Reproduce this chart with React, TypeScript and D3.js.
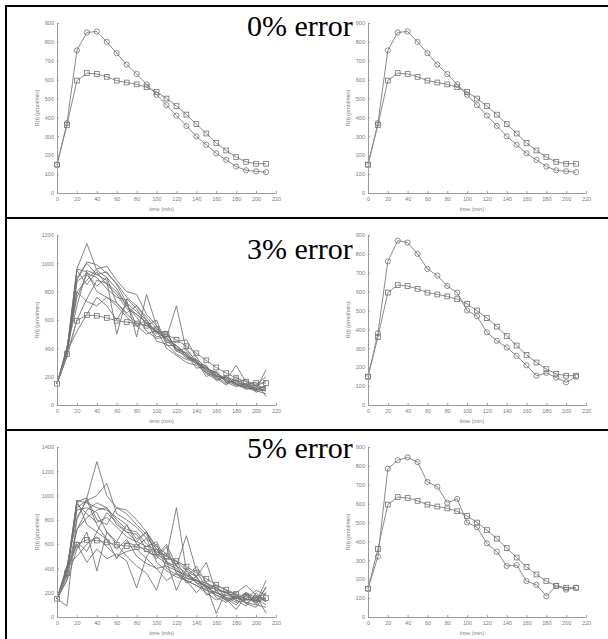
import React, { useRef, useEffect } from 'react';
import * as d3 from 'd3';

// sample times (min)
const times = [0, 10, 20, 30, 40, 50, 60, 70, 80, 90, 100, 110, 120, 130, 140, 150, 160, 170, 180, 190, 200, 210];
const xTicks = [0, 20, 40, 60, 80, 100, 120, 140, 160, 180, 200, 220];
const yTicks900 = [0, 100, 200, 300, 400, 500, 600, 700, 800, 900];
const yTicks1200 = [0, 200, 400, 600, 800, 1000, 1200];
const yTicks1400 = [0, 200, 400, 600, 800, 1000, 1200, 1400];

const titles = ['0% error', '3% error', '5% error'];

// true secretion rate (circles) and the plateau profile (squares)
const riseTrue = [150, 370, 755, 850, 855, 800, 740, 680, 630, 575, 520, 465, 410, 355, 300, 255, 210, 175, 140, 120, 115, 110];
const plateau = [150, 360, 595, 635, 630, 615, 595, 585, 575, 560, 535, 500, 460, 415, 365, 315, 265, 225, 190, 165, 155, 155];

// single estimates with noise
const rise3 = [150, 380, 760, 870, 860, 800, 720, 685, 630, 595, 500, 470, 385, 340, 305, 260, 210, 155, 170, 145, 120, 150];
const rise5 = [150, 320, 785, 830, 845, 820, 715, 690, 605, 625, 500, 475, 390, 345, 270, 275, 190, 170, 110, 165, 145, 155];

// repeated estimates, 3% error
const noise3 = [
  [150, 380, 960, 1140, 950, 900, 820, 700, 640, 580, 520, 470, 420, 360, 300, 260, 220, 180, 150, 130, 120, 110],
  [150, 360, 880, 1010, 990, 930, 860, 760, 700, 620, 540, 480, 700, 380, 320, 270, 210, 170, 140, 130, 110, 100],
  [150, 400, 700, 950, 920, 880, 500, 750, 680, 560, 600, 420, 420, 340, 290, 250, 200, 200, 170, 120, 110, 250],
  [150, 350, 800, 880, 960, 980, 880, 800, 780, 640, 560, 450, 400, 330, 320, 230, 200, 150, 180, 140, 160, 60],
  [150, 390, 960, 940, 800, 760, 700, 620, 560, 600, 500, 520, 380, 400, 300, 260, 230, 160, 130, 150, 90, 120],
  [150, 370, 870, 930, 900, 820, 760, 740, 480, 780, 560, 440, 450, 460, 340, 240, 210, 180, 280, 160, 140, 120],
  [150, 340, 600, 750, 880, 860, 800, 700, 620, 520, 470, 480, 380, 350, 290, 280, 170, 200, 150, 110, 130, 170],
  [150, 400, 760, 920, 840, 900, 720, 650, 700, 600, 450, 430, 360, 320, 310, 200, 240, 170, 160, 180, 100, 140],
  [150, 380, 520, 640, 760, 700, 600, 720, 560, 500, 530, 400, 350, 300, 280, 230, 190, 140, 200, 140, 110, 100],
  [150, 360, 950, 850, 940, 850, 780, 680, 640, 580, 480, 500, 400, 360, 260, 270, 200, 190, 140, 120, 100, 80],
  [150, 410, 800, 730, 700, 760, 720, 640, 580, 560, 520, 460, 420, 340, 310, 220, 180, 200, 150, 150, 120, 130],
  [150, 350, 900, 1000, 920, 940, 850, 720, 660, 600, 510, 520, 390, 370, 300, 250, 230, 160, 170, 130, 140, 200],
];

// repeated estimates, 5% error
const noise5 = [
  [150, 380, 950, 980, 1280, 1000, 900, 880, 800, 700, 580, 520, 420, 360, 300, 280, 220, 200, 160, 120, 100, 80],
  [150, 90, 820, 960, 1000, 1100, 850, 800, 740, 650, 560, 500, 900, 380, 330, 450, 200, 180, 150, 200, 160, 150],
  [150, 400, 600, 450, 560, 480, 520, 460, 240, 500, 600, 400, 350, 300, 260, 220, 180, 150, 100, 200, 130, 240],
  [150, 350, 960, 940, 900, 880, 820, 760, 640, 700, 500, 600, 420, 670, 380, 240, 200, 160, 140, 90, 200, 120],
  [150, 300, 560, 700, 380, 700, 600, 500, 420, 360, 220, 480, 460, 380, 280, 260, 30, 220, 180, 150, 120, 300],
  [150, 420, 800, 980, 800, 760, 900, 850, 760, 680, 520, 460, 380, 340, 300, 250, 260, 150, 60, 180, 120, 160],
  [150, 380, 720, 880, 940, 900, 760, 700, 680, 560, 480, 580, 360, 320, 420, 280, 240, 200, 200, 260, 180, 30],
  [150, 360, 620, 540, 700, 640, 560, 640, 500, 440, 400, 300, 360, 300, 200, 280, 160, 120, 170, 110, 80, 200],
  [150, 340, 930, 850, 780, 820, 740, 660, 620, 700, 560, 460, 220, 400, 340, 180, 220, 130, 160, 140, 150, 100],
  [150, 400, 880, 900, 860, 700, 620, 760, 600, 540, 500, 440, 400, 280, 310, 240, 230, 200, 150, 200, 100, 250],
  [150, 370, 900, 960, 760, 640, 480, 620, 580, 650, 450, 380, 330, 300, 260, 200, 140, 180, 190, 110, 170, 140],
  [150, 310, 720, 820, 880, 900, 800, 720, 700, 600, 540, 500, 460, 320, 300, 260, 180, 140, 180, 150, 220, 180],
  [150, 420, 500, 600, 660, 580, 500, 540, 560, 480, 400, 420, 380, 350, 280, 220, 200, 160, 120, 140, 160, 130],
  [150, 380, 960, 760, 700, 860, 780, 700, 620, 580, 620, 450, 420, 300, 330, 230, 260, 220, 130, 180, 140, 200],
];

const rowTops = [6, 218, 430];

const App = () => {
  const svgRef = useRef<SVGSVGElement>(null);

  useEffect(() => {
    const svg = d3.select(svgRef.current);
    svg.selectAll('*').remove();

    const panels = [
      { row: 0, col: 0, yTicks: yTicks900, noise: [], circles: riseTrue, squares: plateau },
      { row: 0, col: 1, yTicks: yTicks900, noise: [], circles: riseTrue, squares: plateau },
      { row: 1, col: 0, yTicks: yTicks1200, noise: noise3, circles: null, squares: plateau },
      { row: 1, col: 1, yTicks: yTicks900, noise: [], circles: rise3, squares: plateau },
      { row: 2, col: 0, yTicks: yTicks1400, noise: noise5, circles: null, squares: plateau },
      { row: 2, col: 1, yTicks: yTicks900, noise: [], circles: rise5, squares: plateau },
    ];

    const axisColor = '#9a9a9a';
    const textColor = '#7c7c7c';
    const lineColor = '#8a8a8a';

    panels.forEach(p => {
      const left = p.col === 0 ? 57 : 368;
      const right = p.col === 0 ? 276 : 586;
      const top = rowTops[p.row] + 17;
      const bottom = rowTops[p.row] + 187;

      const x = d3.scaleLinear().domain([0, 220]).range([left, right]);
      const y = d3.scaleLinear()
        .domain([0, d3.max(p.yTicks) as number])
        .range([bottom, top]);

      const g = svg.append('g');

      const line = d3.line<number>()
        .x((d, i) => x(times[i]))
        .y(d => y(d));

      // noisy repeats
      g.selectAll('.noise')
        .data(p.noise)
        .enter().append('path')
        .attr('d', d => line(d))
        .attr('fill', 'none')
        .attr('stroke', '#6e6e6e')
        .attr('stroke-width', 1)
        .attr('stroke-opacity', 0.85);

      const series = p.circles ? [p.squares, p.circles] : [p.squares];
      series.forEach(s => {
        g.append('path')
          .attr('d', line(s))
          .attr('fill', 'none')
          .attr('stroke', lineColor)
          .attr('stroke-width', 1);
      });

      g.selectAll('.sq')
        .data(p.squares)
        .enter().append('rect')
        .attr('x', (d, i) => x(times[i]) - 2.4)
        .attr('y', d => y(d) - 2.4)
        .attr('width', 4.8)
        .attr('height', 4.8)
        .attr('fill', 'none')
        .attr('stroke', '#707070')
        .attr('stroke-width', 0.8);

      if (p.circles) {
        g.selectAll('.ci')
          .data(p.circles)
          .enter().append('circle')
          .attr('cx', (d, i) => x(times[i]))
          .attr('cy', d => y(d))
          .attr('r', 2.6)
          .attr('fill', 'none')
          .attr('stroke', '#707070')
          .attr('stroke-width', 0.8);
      }

      // axes, matlab style: ticks pointing inward
      const xAxis = g.append('g')
        .attr('transform', `translate(0,${bottom})`)
        .call(d3.axisBottom(x).tickValues(xTicks).tickFormat(d3.format('d')).tickSize(-2).tickPadding(4).tickSizeOuter(0));
      const yAxis = g.append('g')
        .attr('transform', `translate(${left},0)`)
        .call(d3.axisLeft(y).tickValues(p.yTicks).tickFormat(d3.format('d')).tickSize(-2).tickPadding(3).tickSizeOuter(0));

      [xAxis, yAxis].forEach(a => {
        a.select('.domain').attr('stroke', axisColor).attr('stroke-width', 1);
        a.selectAll('line').attr('stroke', axisColor);
        a.selectAll('text')
          .attr('fill', textColor)
          .style('font-family', 'Liberation Sans, Arial, sans-serif')
          .style('font-size', '5.5px');
      });

      g.append('text')
        .attr('x', (left + right) / 2 - 5)
        .attr('y', bottom + 18)
        .attr('text-anchor', 'middle')
        .attr('fill', textColor)
        .style('font-family', 'Liberation Sans, Arial, sans-serif')
        .style('font-size', '5.5px')
        .text('time (min)');

      g.append('text')
        .attr('transform', `translate(${left - 18},${(top + bottom) / 2}) rotate(-90)`)
        .attr('text-anchor', 'middle')
        .attr('fill', textColor)
        .style('font-family', 'Liberation Sans, Arial, sans-serif')
        .style('font-size', '5.5px')
        .text('R(t) (pmol/min)');
    });

    // titles
    const titleBase = [36, 259, 458];
    titles.forEach((t, i) => {
      svg.append('text')
        .attr('x', 247)
        .attr('y', titleBase[i])
        .attr('fill', '#000')
        .style('font-family', 'Liberation Serif, Times New Roman, serif')
        .style('font-size', '30px')
        .text(t);
    });

    // table borders
    svg.append('line')
      .attr('x1', 6).attr('x2', 6).attr('y1', 5).attr('y2', 639)
      .attr('stroke', '#000').attr('stroke-width', 2);
    rowTops.forEach(r => {
      svg.append('line')
        .attr('x1', 5).attr('x2', 608).attr('y1', r).attr('y2', r)
        .attr('stroke', '#000').attr('stroke-width', 2);
    });
  }, []);

  return (
    <svg
      ref={svgRef}
      width={608}
      height={639}
      style={{ position: 'absolute', left: 0, top: 0, background: '#fff' }}
    />
  );
};

export default App;
